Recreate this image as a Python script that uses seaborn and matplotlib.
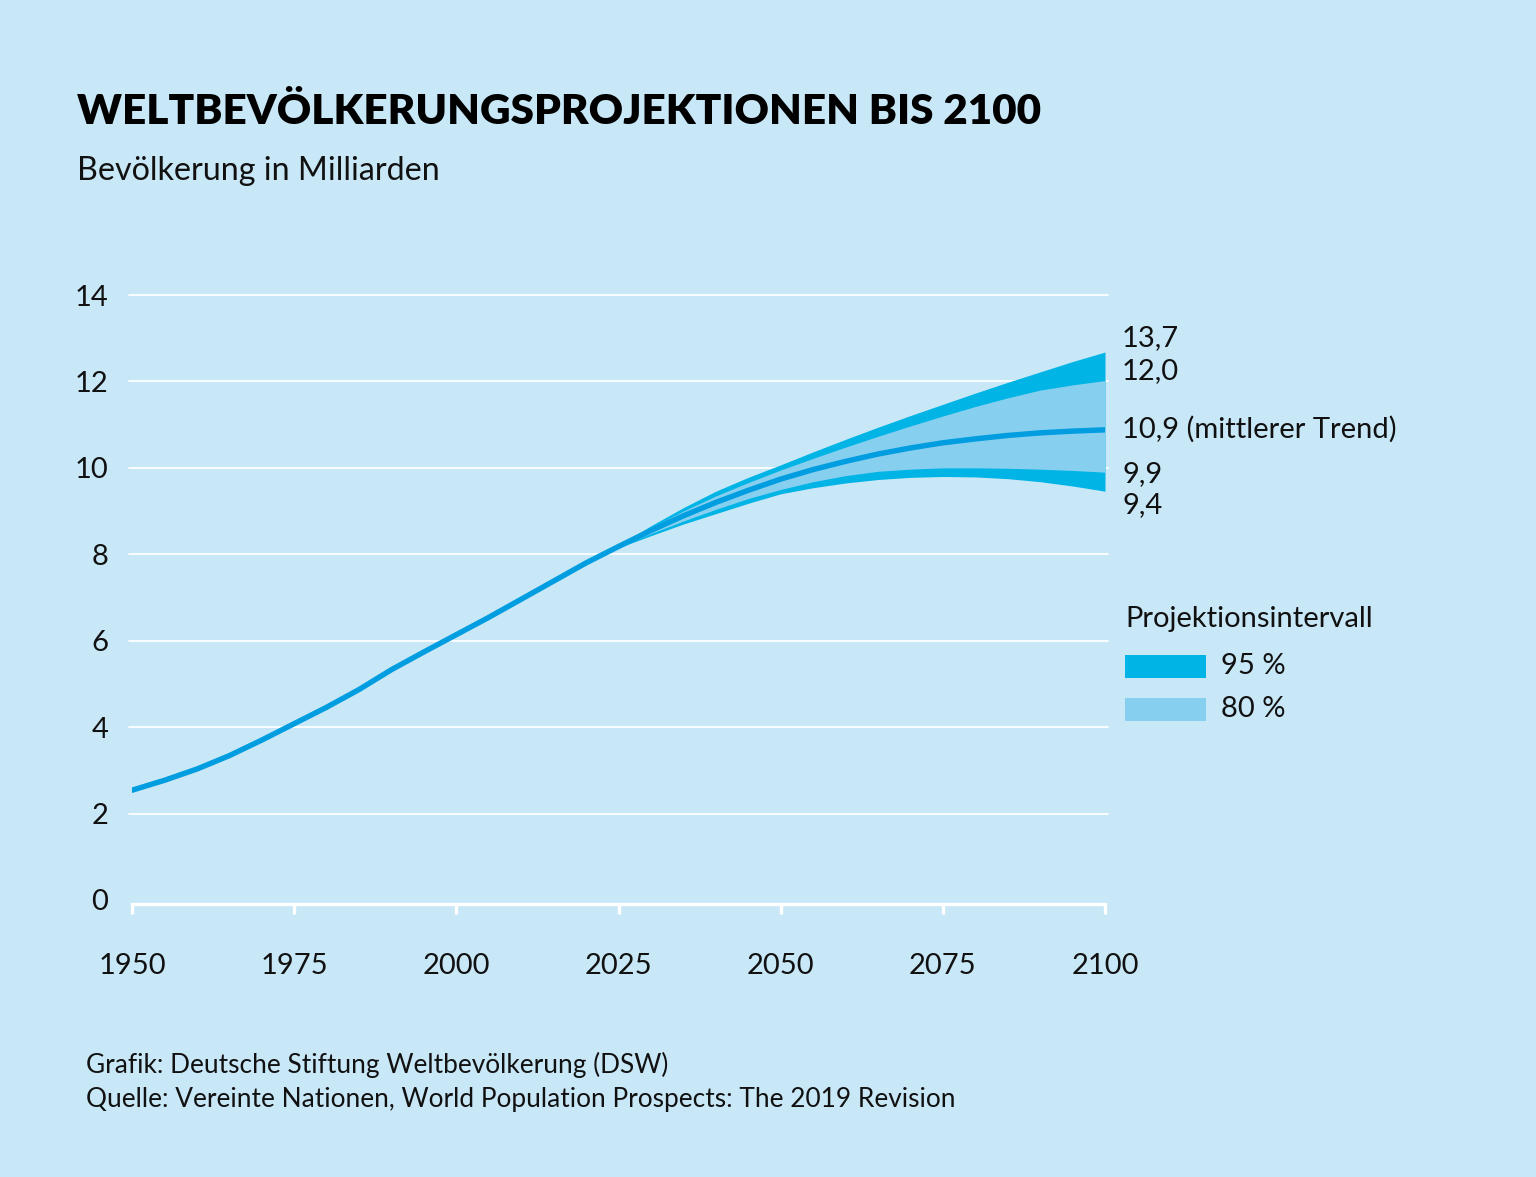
import numpy as np
import pandas as pd
import matplotlib
matplotlib.use("Agg")
import matplotlib.pyplot as plt
from matplotlib.patches import Rectangle
import seaborn as sns

# ---------------- data ----------------
years_hist = [1950, 1955, 1960, 1965, 1970, 1975, 1980, 1985, 1990, 1995,
              2000, 2005, 2010, 2015, 2020]
median_hist = [2.54, 2.77, 3.03, 3.34, 3.70, 4.08, 4.46, 4.87, 5.33, 5.74,
               6.14, 6.54, 6.96, 7.38, 7.80]

years_proj = [2020, 2025, 2030, 2035, 2040, 2045, 2050, 2055, 2060, 2065,
              2070, 2075, 2080, 2085, 2090, 2095, 2100]
median_proj = [7.80, 8.18, 8.55, 8.89, 9.20, 9.48, 9.74, 9.96, 10.15, 10.32,
               10.46, 10.58, 10.67, 10.75, 10.81, 10.85, 10.88]
lo95 = [7.79, 8.15, 8.43, 8.70, 8.94, 9.18, 9.40, 9.54, 9.65, 9.73,
        9.78, 9.80, 9.79, 9.75, 9.68, 9.58, 9.46]
lo80 = [7.79, 8.16, 8.48, 8.77, 9.04, 9.29, 9.50, 9.68, 9.82, 9.92,
        9.97, 10.00, 10.00, 9.99, 9.97, 9.94, 9.90]
hi80 = [7.80, 8.20, 8.62, 9.00, 9.35, 9.66, 9.95, 10.22, 10.48, 10.73,
        10.97, 11.20, 11.42, 11.62, 11.80, 11.92, 12.02]
hi95 = [7.80, 8.21, 8.66, 9.08, 9.46, 9.78, 10.07, 10.37, 10.66, 10.94,
        11.21, 11.47, 11.73, 11.98, 12.22, 12.46, 12.68]

end_labels = ["13,7", "12,0", "10,9 (mittlerer Trend)", "9,9", "9,4"]
legend_title = "Projektionsintervall"
legend_labels = ["95 %", "80 %"]
x_ticks = [1950, 1975, 2000, 2025, 2050, 2075, 2100]
y_ticks = [0, 2, 4, 6, 8, 10, 12, 14]

title = "WELTBEVÖLKERUNGSPROJEKTIONEN BIS 2100"
subtitle = "Bevölkerung in Milliarden"
footer1 = "Grafik: Deutsche Stiftung Weltbevölkerung (DSW)"
footer2 = "Quelle: Vereinte Nationen, World Population Prospects: The 2019 Revision"

# ---------------- style ----------------
BG = "#C9E8F7"
C95 = "#00B4E6"
C80 = "#86CFEF"
CLINE = "#009DE0"
TXT = "#111111"

sns.set_theme(style="white")
plt.rcParams["font.family"] = ["Lato", "DejaVu Sans"]

W, H = 1536, 1177
fig = plt.figure(figsize=(W / 100, H / 100), dpi=100, facecolor=BG)

def fx(px):
    return px / W

def fy(py):
    return 1 - py / H

ax_l, ax_r, ax_t, ax_b = 132, 1105, 295, 900
ax = fig.add_axes([fx(ax_l), fy(ax_b), fx(ax_r) - fx(ax_l), fy(ax_t) - fy(ax_b)])
ax.set_facecolor(BG)

df_median = pd.DataFrame({
    "Jahr": years_hist + years_proj[1:],
    "Bevölkerung": median_hist + median_proj[1:],
})

ax.fill_between(years_proj, lo95, hi95, color=C95, linewidth=0, zorder=2)
ax.fill_between(years_proj, lo80, hi80, color=C80, linewidth=0, zorder=3)
sns.lineplot(data=df_median, x="Jahr", y="Bevölkerung", ax=ax, color=CLINE,
             linewidth=3.9, zorder=4, solid_capstyle="round",
             solid_joinstyle="round")

ax.set_xlim(1950, 2100)
ax.set_ylim(0, 14)
ax.set_xticks(x_ticks)
ax.set_yticks(y_ticks)
ax.set_xticklabels([str(t) for t in x_ticks])
ax.set_yticklabels([str(t) for t in y_ticks])
ax.set_xlabel("")
ax.set_ylabel("")

for y in y_ticks[1:]:
    ax.axhline(y, color="white", linewidth=1.3, zorder=1, xmin=-0.003, xmax=1.003,
               clip_on=False)

for s in ["top", "right", "left"]:
    ax.spines[s].set_visible(False)
ax.spines["bottom"].set_color("white")
ax.spines["bottom"].set_linewidth(2.4)
ax.spines["bottom"].set_zorder(5)
ax.spines["bottom"].set_position(("outward", 3))

ax.tick_params(axis="x", direction="out", length=7, width=2.4, color="white",
               labelsize=21, labelcolor=TXT, pad=28, bottom=True)
ax.tick_params(axis="y", length=0, labelsize=21, labelcolor=TXT, pad=17, left=False)

# ---------------- texts ----------------
fig.text(fx(77), fy(112), title, fontsize=30.4, fontweight="heavy", color="#000000",
         va="center", ha="left")
fig.text(fx(77), fy(171), subtitle, fontsize=23.2, color=TXT, va="center", ha="left")

label_y = [338, 371, 429, 474, 505]
for lab, py in zip(end_labels, label_y):
    fig.text(fx(1122), fy(py), lab, fontsize=21, color=TXT, va="center", ha="left")

fig.text(fx(1125), fy(619), legend_title, fontsize=21, color=TXT, va="center", ha="left")
for lab, col, py in zip(legend_labels, [C95, C80], [666, 709]):
    fig.add_artist(Rectangle((fx(1125), fy(py + 11.5)), fx(81), 23 / H,
                             transform=fig.transFigure, facecolor=col,
                             edgecolor="none"))
    fig.text(fx(1221), fy(py), lab, fontsize=21, color=TXT, va="center", ha="left")

fig.text(fx(86), fy(1065), footer1, fontsize=18.9, color=TXT, va="center", ha="left")
fig.text(fx(86), fy(1100), footer2, fontsize=18.9, color=TXT, va="center", ha="left")

fig.savefig("out.png", dpi=100, facecolor=BG)
